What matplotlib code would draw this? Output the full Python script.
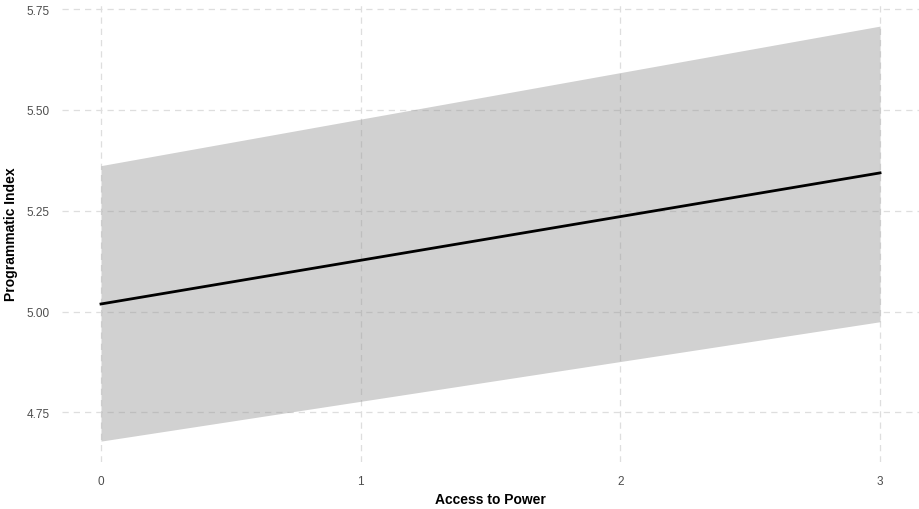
import matplotlib
matplotlib.use('Agg')
import matplotlib.pyplot as plt

# predicted values with confidence band
access = [0, 3]
fit = [5.019, 5.344]
lower = [4.679, 4.975]
upper = [5.362, 5.708]

x_ticks = [0, 1, 2, 3]
y_ticks = [4.75, 5.00, 5.25, 5.50, 5.75]

plt.rcParams['font.family'] = ['Liberation Sans', 'DejaVu Sans']

fig = plt.figure(figsize=(9.19, 5.10), dpi=100)
ax = fig.add_axes([0.0675, 0.092, 0.9325, 0.896])

ax.fill_between(access, lower, upper, color='#999999', alpha=0.45, linewidth=0, zorder=2)
ax.plot(access, fit, color='black', linewidth=2.0, zorder=3)

# ggplot-like expansion
ax.set_xlim(-0.15, 3.15)
ax.set_ylim(4.627, 5.760)
ax.set_xticks(x_ticks)
ax.set_xticklabels([str(t) for t in x_ticks])
ax.set_yticks(y_ticks)
ax.set_yticklabels(['%.2f' % t for t in y_ticks])

ax.grid(True, color='#dedede', linestyle=(0, (5, 4)), linewidth=0.9, zorder=1)
ax.set_axisbelow(True)
for s in ax.spines.values():
    s.set_visible(False)
ax.tick_params(length=0, labelsize=8.5, colors='#4d4d4d')
ax.tick_params(axis='x', pad=9)
ax.tick_params(axis='y', pad=9)

ax.set_xlabel('Access to Power', fontsize=10, fontweight='bold', labelpad=4)
ax.set_ylabel('Programmatic Index', fontsize=10, fontweight='bold', labelpad=6)

fig.savefig('out.png', dpi=100)
